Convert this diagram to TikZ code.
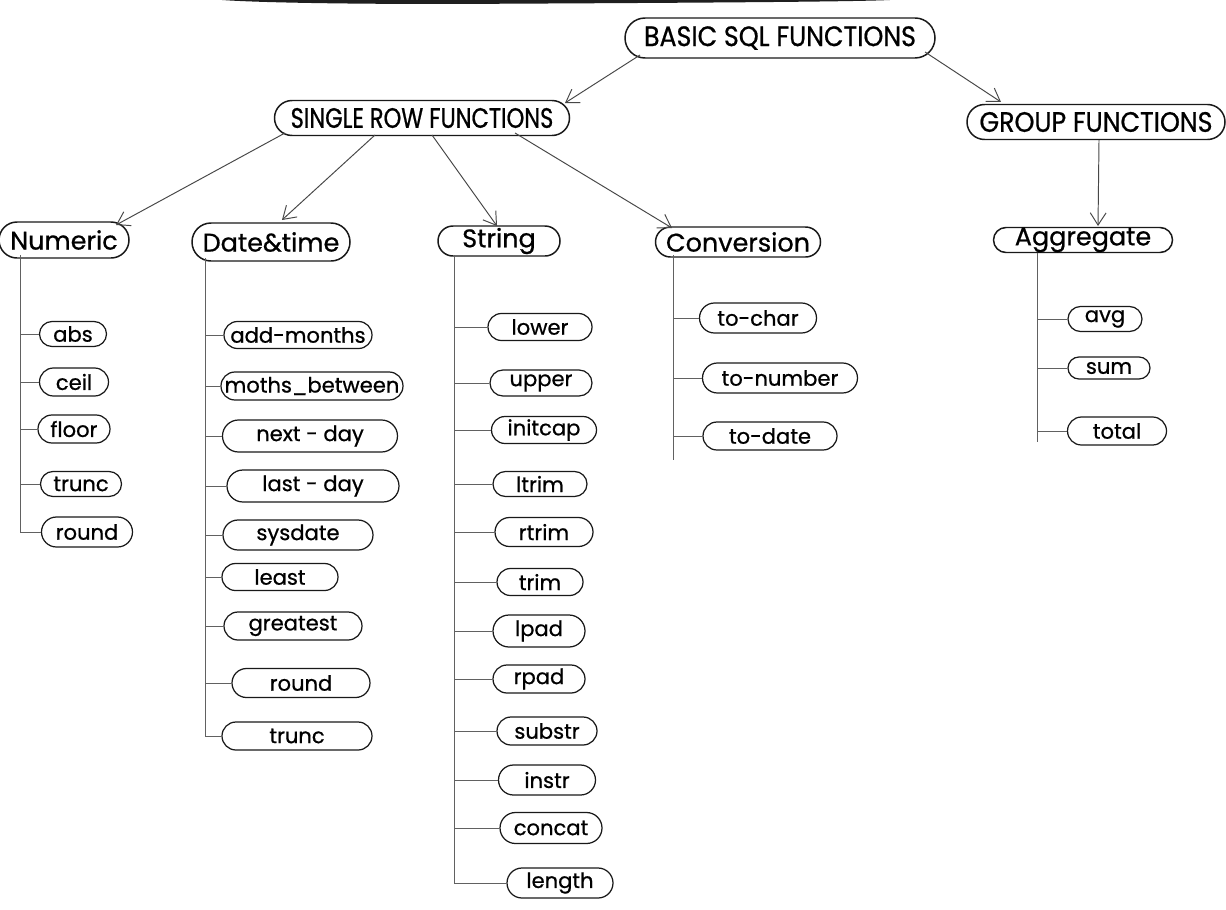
\documentclass[tikz,border=0pt]{standalone}
\usepackage{fontspec}
\setmainfont{Poppins}[FakeBold=0.7]
\newfontfamily\handfont[FakeBold=0.7]{Poppins}
\newfontfamily\capsfont[FakeStretch=0.9,FakeBold=0.7]{Poppins}
\newfontfamily\capsnarrow[FakeStretch=0.8,FakeBold=0.7]{Poppins}
\usetikzlibrary{shapes.misc,arrows.meta}
\begin{document}
\begin{tikzpicture}[x=0.02cm,y=-0.02cm,
  oval/.style={rounded rectangle, draw=black!90, line width=0.85pt, inner sep=0pt},
  capslbl/.style={font=\capsfont\fontsize{16}{18}\selectfont, inner sep=0pt},
  narrowlbl/.style={font=\capsnarrow\fontsize{16}{18}\selectfont, inner sep=0pt},
  catlbl/.style={font=\handfont\fontsize{14.5}{16}\selectfont, inner sep=0pt},
  leaflbl/.style={font=\handfont\fontsize{12}{14}\selectfont, inner sep=0pt},
  topbox/.style args={#1/#2/#3}{oval, minimum width=#1*0.02cm, minimum height=#2*0.02cm, label={[capslbl]center:#3}},
  catbox/.style args={#1/#2/#3}{oval, minimum width=#1*0.02cm, minimum height=#2*0.02cm, label={[catlbl]center:#3}},
  leaf/.style args={#1/#2/#3}{oval, line width=0.7pt, minimum width=#1*0.02cm, minimum height=#2*0.02cm, label={[leaflbl]center:#3}},
  arr/.style={-{Straight Barb[length=7pt,width=9pt]}, draw=black!72, line width=0.55pt},
  branch/.style={draw=black!62, line width=0.5pt}
]
\fill[white] (0,0) rectangle (1226,909);
\useasboundingbox (0,0) rectangle (1226,909);
% scan smudge at the top
\fill[black!88] (222,0) -- (890,0) .. controls (850,2) and (650,3) .. (450,4) .. controls (320,4) and (250,2) .. (222,0) -- cycle;

% top levels
\node[topbox={310/40/BASIC SQL FUNCTIONS}] (basic) at (780,38) {};
\node[oval, minimum width=295*0.02cm, minimum height=35*0.02cm, label={[narrowlbl]center:SINGLE ROW FUNCTIONS}] (single) at (422,118) {};
\node[topbox={258/35/GROUP FUNCTIONS}] (group) at (1096,122) {};

% categories
\node[catbox={130/36/Numeric}] (numeric) at (64,240) {};
\node[catbox={158/38/Date\&time}] (datetime) at (271,242) {};
\node[catbox={122/30/String}] (string) at (499,241) {};
\node[catbox={165/30/Conversion}] (conversion) at (738,242) {};
\node[catbox={179/25/Aggregate}] (aggregate) at (1083,240) {};

% arrows
\draw[arr] ([shift={(-140,17)}]basic.center) -- ([shift={(143,-15)}]single.center);
\draw[arr] ([shift={(145,14)}]basic.center) -- ([shift={(-95,-20)}]group.center);
\draw[arr] ([shift={(-137,15)}]single.center) -- ([shift={(52,-15)}]numeric.center);
\draw[arr] ([shift={(-47,17)}]single.center) -- ([shift={(11,-22)}]datetime.center);
\draw[arr] ([shift={(10,17)}]single.center) -- ([shift={(-2,-15)}]string.center);
\draw[arr] ([shift={(93,15)}]single.center) -- ([shift={(-66,-14)}]conversion.center);
\draw[arr] ([shift={(3,18)}]group.center) -- ([shift={(15,-14)}]aggregate.center);

% Numeric leaves
\node[leaf={67/25/abs}] (abs) at (73,334) {};
\node[leaf={69/28/ceil}] (ceil) at (74,382) {};
\node[leaf={72/28/floor}] (floor) at (74,429) {};
\node[leaf={81/25/trunc}] (ntrunc) at (81,484) {};
\node[leaf={91/30/round}] (nround) at (87,532) {};
\coordinate (nT) at (20,255);
\draw[branch] (nT) |- (nround.west);
\foreach \n in {abs,ceil,floor,ntrunc} \draw[branch] (nT |- \n.west) -- (\n.west);

% Date & time leaves
\node[leaf={148/27/add-months}] (addm) at (298,335) {};
\node[leaf={182/28/moths\_between}] (mbet) at (312,386) {};
\node[leaf={175/32/next - day}] (nextd) at (310,436) {};
\node[leaf={172/32/last - day}] (lastd) at (313,486) {};
\node[leaf={150/30/sysdate}] (sysd) at (298,535) {};
\node[leaf={116/27/least}] (least) at (280,577) {};
\node[leaf={138/28/greatest}] (great) at (293,626) {};
\node[leaf={138/29/round}] (dround) at (301,683) {};
\node[leaf={150/28/trunc}] (dtrunc) at (297,736) {};
\coordinate (dT) at (205,258);
\draw[branch] (dT) |- (dtrunc.west);
\foreach \n in {addm,mbet,nextd,lastd,sysd,least,great,dround} \draw[branch] (dT |- \n.west) -- (\n.west);

% String leaves
\node[leaf={104/27/lower}] (lower) at (540,327) {};
\node[leaf={102/26/upper}] (upper) at (541,383) {};
\node[leaf={105/27/initcap}] (initcap) at (544,430) {};
\node[leaf={94/25/ltrim}] (ltrim) at (540,484) {};
\node[leaf={98/29/rtrim}] (rtrim) at (544,532) {};
\node[leaf={86/27/trim}] (trim) at (540,582) {};
\node[leaf={92/32/lpad}] (lpad) at (539,631) {};
\node[leaf={92/28/rpad}] (rpad) at (539,679) {};
\node[leaf={100/28/substr}] (substr) at (547,731) {};
\node[leaf={97/30/instr}] (instr) at (547,780) {};
\node[leaf={102/31/concat}] (concat) at (551,828) {};
\node[leaf={106/30/length}] (length) at (560,883) {};
\coordinate (sT) at (454,255);
\draw[branch] (sT) |- (length.west);
\foreach \n in {lower,upper,initcap,ltrim,rtrim,trim,lpad,rpad,substr,instr,concat} \draw[branch] (sT |- \n.west) -- (\n.west);

% Conversion leaves
\node[leaf={117/30/to-char}] (tochar) at (758,318) {};
\node[leaf={155/30/to-number}] (tonum) at (780,378) {};
\node[leaf={134/28/to-date}] (todate) at (770,436) {};
\coordinate (cT) at (673,255);
\coordinate (cB) at (673,460);
\draw[branch] (cT) -- (cB);
\foreach \n in {tochar,tonum,todate} \draw[branch] (cT |- \n.west) -- (\n.west);

% Aggregate leaves
\node[leaf={74/25/avg}] (avg) at (1105,319) {};
\node[leaf={82/22/sum}] (sum) at (1109,368) {};
\node[leaf={99/28/total}] (total) at (1117,431) {};
\coordinate (aT) at (1037,253);
\coordinate (aB) at (1037,442);
\draw[branch] (aT) -- (aB);
\foreach \n in {avg,sum,total} \draw[branch] (aT |- \n.west) -- (\n.west);
\end{tikzpicture}
\end{document}
